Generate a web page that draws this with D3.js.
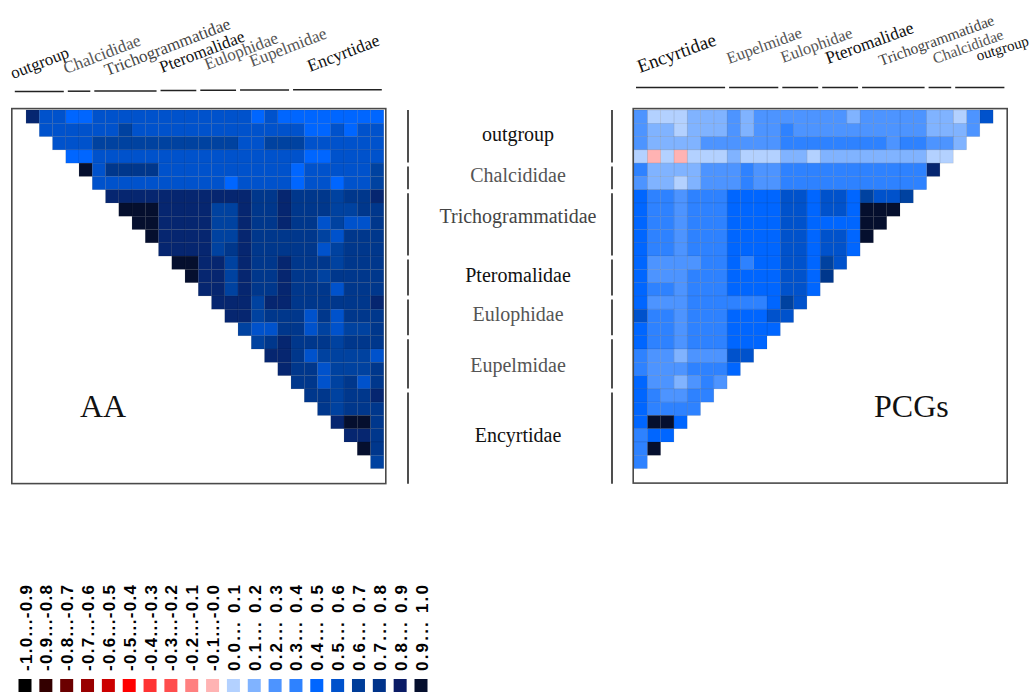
<!DOCTYPE html>
<html><head><meta charset="utf-8">
<script src="https://cdn.jsdelivr.net/npm/d3@7/dist/d3.min.js"></script>
<style>body{margin:0;background:#fff}svg{display:block}</style>
</head><body>
<svg id="chart" width="1032" height="695"></svg>
<script>
// ---------------- DATA ----------------
const groups = ["outgroup","Chalcididae","Trichogrammatidae","Pteromalidae","Eulophidae","Eupelmidae","Encyrtidae"];
const groupSizes = [4,2,5,3,3,4,7];
const groupColors = ["#111","#555","#444","#111","#555","#555","#111"];

// AA: row i lists correlations with taxa j = i+1 .. 27 (left to right)
const aaRows = [
 [.85,.55,.55,.45,.45,.55,.55,.55,.55,.55,.55,.55,.55,.55,.55,.55,.55,.45,.55,.45,.45,.45,.45,.45,.45,.45,.45],
 [.55,.55,.55,.55,.55,.55,.65,.55,.55,.55,.55,.55,.55,.55,.55,.55,.55,.55,.55,.55,.45,.45,.55,.45,.55,.55],
 [.55,.55,.55,.65,.65,.65,.65,.65,.65,.65,.65,.65,.65,.65,.55,.55,.65,.65,.65,.55,.55,.55,.55,.55,.55],
 [.45,.45,.55,.55,.55,.55,.55,.55,.55,.55,.55,.55,.55,.55,.55,.55,.55,.55,.45,.45,.55,.55,.55,.55],
 [.95,.55,.75,.75,.75,.75,.55,.55,.55,.55,.55,.55,.55,.55,.55,.55,.45,.55,.55,.55,.55,.55,.65],
 [.55,.55,.55,.55,.55,.55,.55,.55,.55,.55,.45,.55,.55,.55,.55,.45,.55,.55,.45,.55,.55,.65],
 [.85,.85,.85,.85,.85,.85,.85,.85,.85,.85,.85,.75,.75,.85,.75,.75,.75,.65,.75,.75,.85],
 [.95,.95,.95,.85,.85,.85,.85,.65,.65,.85,.75,.75,.85,.75,.75,.75,.65,.65,.75,.75],
 [.95,.95,.85,.85,.85,.85,.65,.65,.85,.75,.75,.85,.75,.75,.55,.65,.55,.55,.75],
 [.95,.85,.85,.85,.85,.65,.65,.85,.75,.75,.75,.75,.75,.65,.55,.75,.75,.75],
 [.85,.85,.85,.85,.65,.75,.85,.75,.75,.75,.75,.75,.55,.65,.75,.75,.75],
 [.95,.95,.85,.85,.65,.85,.75,.75,.85,.75,.75,.75,.65,.75,.75,.75],
 [.95,.85,.85,.65,.85,.75,.75,.85,.75,.75,.65,.75,.75,.75,.75],
 [.85,.85,.65,.85,.75,.75,.85,.75,.75,.75,.55,.75,.75,.75],
 [.85,.85,.85,.65,.85,.85,.75,.75,.75,.75,.75,.75,.85],
 [.85,.85,.65,.75,.75,.75,.55,.75,.55,.75,.75,.75],
 [.65,.55,.55,.75,.75,.55,.65,.55,.65,.65,.75],
 [.65,.75,.85,.75,.75,.75,.65,.75,.75,.75],
 [.85,.85,.75,.55,.65,.65,.65,.65,.55],
 [.85,.75,.75,.55,.65,.65,.65,.75],
 [.75,.75,.55,.65,.75,.55,.75],
 [.75,.75,.65,.75,.75,.85],
 [.75,.65,.75,.75,.75],
 [.85,.95,.95,.75],
 [.85,.85,.75],
 [.95,.75],
 [.65]
];

// PCGs: row i lists correlations with taxa j = 27 down to i+1 (reversed taxon order)
const pcgRowsReversed = [
 [.25,.05,.05,.05,.15,.15,.15,.25,.15,.25,.25,.25,.25,.25,.25,.25,.15,.25,.25,.25,.25,.25,.15,.15,.05,.25,.55],
 [.25,.15,.15,.05,.15,.15,.15,.25,.15,.25,.25,.35,.25,.25,.25,.25,.25,.25,.25,.25,.25,.25,.15,.15,.15,.25],
 [.25,.15,.15,.15,.15,.25,.25,.25,.25,.25,.25,.35,.35,.35,.35,.35,.35,.35,.35,.25,.35,.35,.25,.25,.15],
 [.05,-.05,.05,-.05,.05,.05,.05,.15,.05,.05,.05,.15,.15,.05,.15,.15,.15,.15,.15,.15,.15,.15,.05,.05],
 [.35,.15,.15,.15,.15,.25,.25,.25,.35,.25,.25,.35,.35,.35,.35,.35,.35,.35,.35,.35,.35,.35,.85],
 [.25,.15,.15,.05,.15,.25,.25,.25,.35,.25,.25,.35,.35,.35,.35,.35,.35,.35,.35,.35,.35,.35],
 [.45,.35,.35,.25,.35,.35,.35,.45,.45,.45,.45,.55,.55,.45,.55,.55,.45,.65,.55,.55,.65],
 [.45,.35,.35,.25,.35,.35,.35,.45,.45,.45,.45,.55,.55,.45,.55,.55,.45,.95,.95,.95],
 [.45,.35,.35,.25,.35,.35,.35,.45,.45,.45,.45,.55,.55,.45,.45,.45,.45,.95,.95],
 [.45,.35,.35,.25,.35,.35,.35,.45,.45,.45,.45,.55,.55,.45,.55,.55,.45,.95],
 [.45,.35,.35,.25,.35,.35,.35,.45,.45,.45,.45,.55,.55,.45,.55,.55,.45],
 [.45,.25,.25,.25,.25,.35,.35,.45,.35,.45,.45,.55,.55,.45,.65,.55],
 [.45,.25,.25,.25,.35,.35,.35,.45,.45,.45,.45,.55,.55,.45,.75],
 [.45,.35,.35,.25,.35,.35,.35,.45,.45,.45,.45,.55,.55,.45],
 [.45,.25,.25,.25,.35,.35,.35,.35,.35,.35,.45,.65,.55],
 [.55,.35,.35,.25,.35,.35,.35,.45,.45,.45,.55,.55],
 [.45,.35,.35,.25,.35,.35,.35,.45,.45,.45,.45],
 [.45,.35,.35,.25,.35,.35,.35,.45,.45,.45],
 [.35,.25,.25,.15,.25,.25,.25,.55,.55],
 [.35,.25,.25,.25,.35,.35,.35,.45],
 [.45,.25,.25,.15,.25,.35,.25],
 [.45,.35,.25,.25,.35,.35],
 [.45,.35,.35,.35,.35],
 [.45,.95,.95,.45],
 [.35,.45,.45],
 [.35,.95],
 [.35]
];

const binColors = ["#000000","#330000","#6b0000","#990000","#cc0000","#ff0000","#ff3333","#ff4d4d","#ff8080","#ffb3b3",
                   "#b3d1ff","#80b3ff","#4d94ff","#2e82ff","#0066ff","#0052cc","#0042a0","#00378c","#062670","#050f2e"];
const legendColors = ["#000000","#330000","#6b0000","#990000","#cc0000","#ff0000","#ff3333","#ff4d4d","#ff8080","#ffb3b3",
                   "#b3d1ff","#80b3ff","#4d94ff","#2e82ff","#0066ff","#0052cc","#003d99","#00338a","#0b1c66","#050f2e"];
const legendLabels = ["-1.0...-0.9","-0.9...-0.8","-0.8...-0.7","-0.7...-0.6","-0.6...-0.5","-0.5...-0.4","-0.4...-0.3",
  "-0.3...-0.2","-0.2...-0.1","-0.1...-0.0","0.0... 0.1","0.1... 0.2","0.2... 0.3","0.3... 0.4","0.4... 0.5",
  "0.5... 0.6","0.6... 0.7","0.7... 0.8","0.8... 0.9","0.9... 1.0"];

// ---------------- DRAW ----------------
const svg = d3.select("#chart");
const N = d3.sum(groupSizes);
const idx = d3.range(N);
const thresholds = d3.range(-9,10).map(d => d/10);
const color = d3.scaleThreshold().domain(thresholds).range(binColors);
const serif = "'Liberation Serif','Times New Roman',serif";

const yS = d3.scaleBand().domain(idx).range([110, 110 + N*13.28]);
const xA = d3.scaleBand().domain(idx).range([12.8, 12.8 + N*13.25]);
const xP = d3.scaleBand().domain(idx.slice().reverse()).range([634, 634 + N*13.3]);

function cells(rows, reversed){
  const out = [];
  rows.forEach((row,i)=>{
    const vals = reversed ? row.slice().reverse() : row;
    vals.forEach((v,n)=> out.push({i, j:i+1+n, v}));
  });
  return out;
}

function panel(data, xs, box, label, labelX){
  const g = svg.append("g");
  g.append("rect").attr("x",box[0]).attr("y",box[1]).attr("width",box[2]).attr("height",box[3])
    .attr("fill","#fff").attr("stroke","#4a4a4a").attr("stroke-width",1.6);
  g.selectAll("rect.cell").data(data).join("rect").attr("class","cell")
    .attr("x", d => xs(d.j)).attr("y", d => yS(d.i))
    .attr("width", xs.bandwidth()).attr("height", yS.bandwidth())
    .attr("fill", d => color(d.v))
    .attr("stroke","rgba(0,0,0,0.14)").attr("stroke-width",0.6);
  g.append("text").attr("x",labelX).attr("y",417).attr("font-family",serif)
    .attr("font-size",32).attr("fill","#111").text(label);
}
panel(cells(aaRows,false), xA, [11.8,108.6,374,375], "AA", 80);
panel(cells(pcgRowsReversed,true), xP, [633.2,108.6,374,374.5], "PCGs", 874);

// group spans
const starts = groupSizes.map((s,k)=> d3.sum(groupSizes.slice(0,k)));
const spans = groups.map((name,k)=>({name, k, a:starts[k], b:starts[k]+groupSizes[k]-1}));

// top segment lines
svg.append("g").selectAll("line").data(spans).join("line")
  .attr("x1", d => xA(d.a)+2).attr("x2", d => xA(d.b)+xA.bandwidth()-2)
  .attr("y1", d => 91.5 - d.k*0.3).attr("y2", d => 91.5 - d.k*0.3)
  .attr("stroke","#222").attr("stroke-width",1.5);
svg.append("g").selectAll("line").data(spans).join("line")
  .attr("x1", d => xP(d.b)+2).attr("x2", d => xP(d.a)+xP.bandwidth()-2)
  .attr("y1", 87.5).attr("y2", 87.5)
  .attr("stroke","#222").attr("stroke-width",1.5);

// top labels (rotated), indexed by group: x, y, font size, angle
const leftLabelPos = [[13,79,17,-21],[66,74,17,-21],[107,76,17,-21],[162,73,17,-21],[207,70,17,-21],[252,67,17,-21],[310,72,17.5,-21]];
const rightLabelPos = [[978,61,15,-17],[935,64,15.5,-20],[881,66,15.5,-20],[828,64,17.5,-20],[783,63,16.5,-20],[729,64,16.5,-20],[640,73,19,-20]];
svg.append("g").selectAll("text").data(spans).join("text")
  .attr("transform", d => { const p = leftLabelPos[d.k]; return `translate(${p[0]},${p[1]}) rotate(${p[3]})`; })
  .attr("font-family",serif).attr("font-size", d => leftLabelPos[d.k][2])
  .attr("fill", d => groupColors[d.k]).text(d => d.name);
svg.append("g").selectAll("text").data(spans).join("text")
  .attr("transform", d => { const p = rightLabelPos[d.k]; return `translate(${p[0]},${p[1]}) rotate(${p[3]})`; })
  .attr("font-family",serif).attr("font-size", d => rightLabelPos[d.k][2])
  .attr("fill", d => groupColors[d.k]).text(d => d.name);

// middle vertical lines & labels
[408, 612].forEach(x=>{
  svg.append("g").selectAll("line").data(spans).join("line")
    .attr("x1",x).attr("x2",x)
    .attr("y1", d => yS(d.a) + (d.k===0 ? 0 : 3.5))
    .attr("y2", d => yS(d.b) + yS.bandwidth() + (d.k===spans.length-1 ? 2 : -0.5))
    .attr("stroke","#222").attr("stroke-width",1.6);
});
const midDy = [4,6,0,6,5,10,7];
svg.append("g").selectAll("text").data(spans).join("text")
  .attr("x",518).attr("y", d => (yS(d.a) + yS(d.b) + yS.bandwidth())/2 + midDy[d.k])
  .attr("text-anchor","middle").attr("font-family",serif).attr("font-size",20)
  .attr("fill", d => groupColors[d.k]).text(d => d.name);

// legend
const lx = d3.scalePoint().domain(d3.range(legendColors.length)).range([25, 421]);
const leg = svg.append("g");
leg.selectAll("rect").data(legendColors).join("rect")
  .attr("x",(d,i)=> lx(i)-6.5).attr("y",679).attr("width",13).attr("height",13).attr("fill",d=>d);
leg.selectAll("text").data(legendLabels).join("text")
  .attr("transform",(d,i)=>`translate(${lx(i)+6.5},671) rotate(-90)`)
  .attr("font-family","'Liberation Sans',Arial,sans-serif").attr("font-weight","bold")
  .attr("font-size",17).attr("fill","#000")
  .attr("textLength",86).attr("lengthAdjust","spacing").text(d=>d);
</script>
</body></html>
